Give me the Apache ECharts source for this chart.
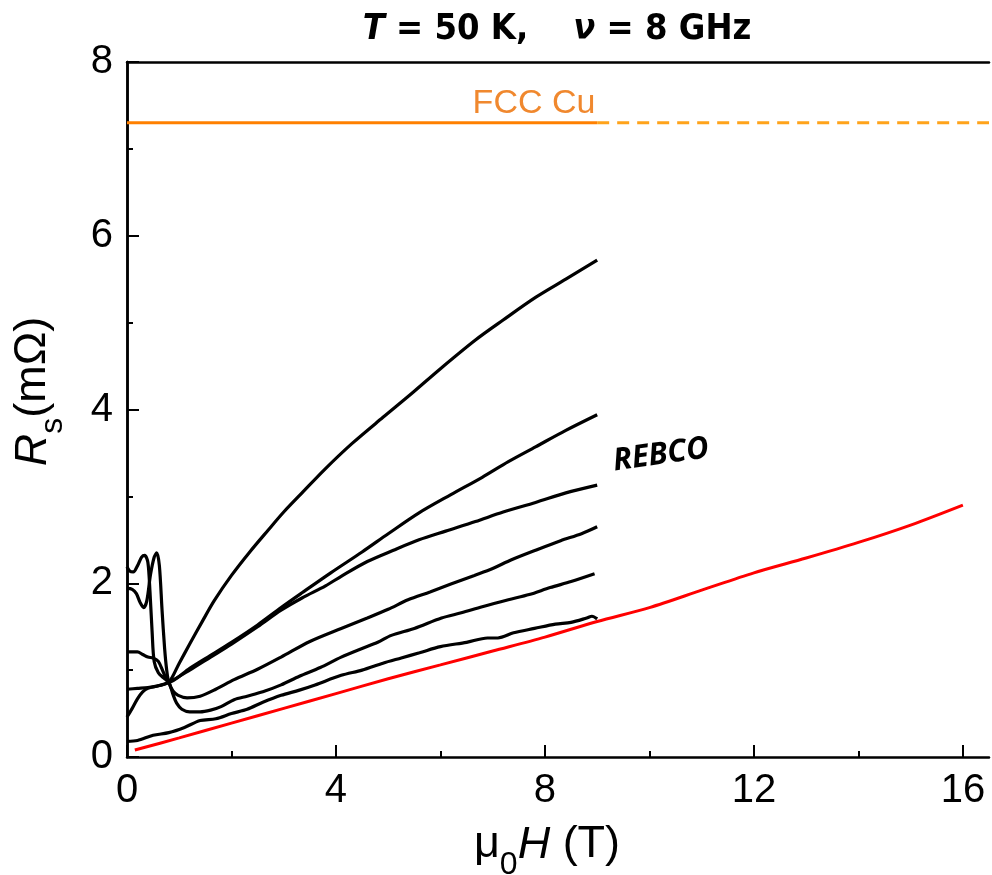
<!DOCTYPE html>
<html>
<head>
<meta charset="utf-8">
<script src="https://cdn.jsdelivr.net/npm/echarts@6/dist/echarts.min.js"></script>
<style>
  html, body { margin: 0; padding: 0; background: #fff; }
  #chart { width: 992px; height: 875px; }
</style>
</head>
<body>
<div id="chart"></div>
<script>
// Surface resistance vs applied field, T = 50 K, 8 GHz
const xTicks = [0, 4, 8, 12, 16];
const xMinorTicks = [2, 6, 10, 14];
const cuLevel = 7.3;          // FCC Cu reference level (mΩ)
const cuMeasuredEnd = 9;      // solid up to here, dashed beyond
const xMax = 16.5;

// REBCO tapes (black curves), [field T, Rs mΩ]
const rebco1 = [[0,0.46],[0.1,0.56],[0.2,0.67],[0.3,0.75],[0.4,0.79],[0.6,0.82],[0.8,0.86],[1.0,1.08],[1.2,1.3],[1.45,1.57],[1.67,1.8],[2.0,2.09],[2.35,2.36],[2.7,2.61],[3.0,2.82],[3.35,3.04],[3.8,3.32],[4.31,3.61],[4.9,3.91],[5.46,4.19],[6.0,4.47],[6.67,4.8],[7.2,5.03],[7.82,5.29],[8.4,5.5],[9,5.72]];
const rebco2 = [[0,1.21],[0.2,1.21],[0.3,1.18],[0.4,1.15],[0.5,1.14],[0.6,1.1],[0.7,0.97],[0.8,0.86],[1.2,1.02],[1.6,1.17],[2.0,1.32],[2.5,1.52],[2.95,1.72],[3.35,1.89],[3.9,2.12],[4.5,2.36],[5.0,2.57],[5.59,2.81],[6.2,3.02],[6.8,3.22],[7.3,3.4],[7.82,3.57],[8.4,3.76],[9,3.94]];
const rebco3 = [[0,0.78],[0.2,0.79],[0.4,0.8],[0.6,0.82],[0.8,0.86],[1.2,1.0],[1.6,1.15],[2.0,1.3],[2.5,1.5],[2.95,1.69],[3.35,1.83],[3.8,1.97],[4.1,2.08],[4.6,2.25],[5.1,2.38],[5.59,2.5],[6.1,2.6],[6.67,2.71],[7.2,2.82],[7.82,2.93],[8.4,3.04],[9,3.13]];
const rebco4 = [[0,1.94],[0.1,1.93],[0.18,1.88],[0.25,1.78],[0.32,1.72],[0.38,1.8],[0.45,2.1],[0.52,2.3],[0.57,2.35],[0.62,2.2],[0.67,1.7],[0.72,1.25],[0.76,1.0],[0.8,0.86],[0.88,0.76],[0.98,0.71],[1.15,0.68],[1.4,0.7],[1.7,0.78],[2.05,0.89],[2.5,1.01],[2.95,1.15],[3.5,1.33],[4.1,1.48],[4.6,1.6],[5.0,1.7],[5.38,1.81],[5.8,1.9],[6.2,1.99],[6.65,2.09],[7.0,2.17],[7.36,2.27],[7.82,2.38],[8.3,2.49],[8.7,2.57],[9,2.65]];
const rebco5 = [[0,2.19],[0.05,2.14],[0.12,2.13],[0.2,2.2],[0.28,2.3],[0.34,2.32],[0.4,2.24],[0.44,1.9],[0.48,1.45],[0.52,1.1],[0.6,0.97],[0.7,0.91],[0.8,0.86],[0.88,0.72],[0.95,0.62],[1.05,0.55],[1.2,0.52],[1.4,0.52],[1.6,0.54],[1.8,0.58],[2.05,0.66],[2.3,0.7],[2.6,0.75],[2.95,0.83],[3.3,0.93],[3.7,1.03],[4.1,1.15],[4.5,1.25],[4.8,1.32],[5.06,1.4],[5.5,1.48],[6.02,1.6],[6.4,1.66],[6.8,1.73],[7.3,1.81],[7.7,1.87],[8.1,1.95],[8.5,2.02],[8.95,2.11]];
const rebco6 = [[0,0.18],[0.2,0.19],[0.5,0.25],[0.8,0.28],[1.1,0.34],[1.4,0.42],[1.7,0.44],[2.0,0.5],[2.3,0.55],[2.6,0.63],[2.95,0.71],[3.3,0.77],[3.6,0.83],[4.1,0.94],[4.5,1.0],[4.9,1.08],[5.25,1.14],[5.6,1.2],[6.0,1.27],[6.5,1.32],[6.9,1.37],[7.1,1.37],[7.4,1.43],[7.8,1.48],[8.2,1.53],[8.5,1.55],[8.8,1.6],[8.9,1.62],[9.0,1.59]];

// Red reference curve
const redCurve = [[0.15,0.08],[1,0.22],[2,0.39],[3,0.56],[4,0.73],[5,0.9],[6,1.06],[7,1.22],[8,1.38],[9,1.56],[10,1.72],[11,1.92],[12,2.12],[13,2.29],[14,2.47],[15,2.67],[16,2.9]];

const cuSolid = [[0, cuLevel], [cuMeasuredEnd, cuLevel]];
const cuDashed = [[cuMeasuredEnd, cuLevel], [xMax, cuLevel]];

const blackSeries = [rebco1, rebco2, rebco3, rebco4, rebco5, rebco6].map((d, i) => ({
  type: 'line', name: 'REBCO ' + (i + 1), data: d, showSymbol: false, smooth: 0.3,
  lineStyle: { color: '#000', width: 3.2 }, z: 3
}));

const font = 'Liberation Sans, Arial, sans-serif';
const nameRich = {
  n: { fontSize: 45, fontFamily: font, color: '#000', lineHeight: 60, verticalAlign: 'middle' },
  sub: { fontSize: 32, fontFamily: font, color: '#000', lineHeight: 60, verticalAlign: 'bottom', padding: [0, 0, -6, 0] },
  it: { fontSize: 45, fontFamily: font, fontStyle: 'italic', color: '#000', lineHeight: 60, verticalAlign: 'middle' }
};
const titleFont = 'DejaVu Sans Condensed, Liberation Sans Narrow, sans-serif';

const chart = echarts.init(document.getElementById('chart'), null, { renderer: 'canvas' });

chart.setOption({
  animation: false,
  backgroundColor: '#fff',
  grid: { left: 127, right: 3, top: 62, bottom: 118, containLabel: false, outerBoundsMode: 'none' },
  xAxis: [
    {
      type: 'value', min: 0, max: xMax, interval: 4, position: 'bottom',
      axisLine: { lineStyle: { color: '#000', width: 2.5 } },
      axisTick: { inside: true, length: 12, lineStyle: { width: 2, color: '#000' }, customValues: xTicks },
      axisLabel: { color: '#000', fontSize: 40, fontFamily: font, margin: 14, customValues: xTicks },
      splitLine: { show: false },
      name: '{n|μ}{sub|0}{it|H}{n| (T)}',
      nameLocation: 'middle', nameGap: 58,
      nameTextStyle: { rich: nameRich, padding: [0, 22, 0, 0] }
    },
    {
      type: 'value', min: 0, max: xMax, position: 'bottom',
      axisLine: { show: false },
      axisTick: { inside: true, length: 6, lineStyle: { width: 2, color: '#000' }, customValues: xMinorTicks },
      axisLabel: { show: false },
      splitLine: { show: false }
    },
    {
      type: 'value', min: 0, max: xMax, position: 'top',
      axisLine: { lineStyle: { color: '#000', width: 2.5 } },
      axisTick: { show: false }, axisLabel: { show: false }, splitLine: { show: false }
    }
  ],
  yAxis: [
    {
      type: 'value', min: 0, max: 8, interval: 2, position: 'left',
      axisLine: { show: true, lineStyle: { color: '#000', width: 2.5 } },
      axisTick: { show: true, inside: true, length: 12, lineStyle: { width: 2, color: '#000' } },
      minorTick: { show: true, splitNumber: 2, length: 6, lineStyle: { width: 2, color: '#000' } },
      axisLabel: { color: '#000', fontSize: 40, fontFamily: font, margin: 14 },
      splitLine: { show: false },
      name: '{it|R}{sub|s}{n|(mΩ)}',
      nameLocation: 'middle', nameGap: 64, nameRotate: 90,
      nameTextStyle: { rich: nameRich, padding: [0, 0, 0, 36] }
    },
    {
      type: 'value', min: 0, max: 8, position: 'right',
      axisLine: { show: true, lineStyle: { color: '#000', width: 2.5 } },
      axisTick: { show: false }, axisLabel: { show: false }, splitLine: { show: false }
    }
  ],
  series: [
    {
      type: 'line', name: 'FCC Cu', data: cuSolid, showSymbol: false,
      lineStyle: { color: '#FF8000', width: 3 }, z: 2
    },
    {
      type: 'line', name: 'FCC Cu (extrapolated)', data: cuDashed, showSymbol: false,
      lineStyle: { color: '#FFA31A', width: 3, type: [12, 8] }, z: 2
    },
    ...blackSeries,
    {
      type: 'line', name: 'reference', data: redCurve, showSymbol: false, smooth: 0.3,
      lineStyle: { color: '#FF0000', width: 3 }, z: 4
    }
  ],
  graphic: [
    {
      type: 'text', x: 557, y: 30,
      style: {
        text: '{it|T}{b| = 50 K,    }{it|ν}{b| = 8 GHz}',
        textAlign: 'center', textVerticalAlign: 'middle',
        rich: {
          b: { fontSize: 36, fontWeight: 'bold', fontFamily: titleFont, fill: '#000' },
          it: { fontSize: 36, fontWeight: 'bold', fontStyle: 'italic', fontFamily: titleFont, fill: '#000' }
        }
      }
    },
    {
      type: 'text', x: 534, y: 104,
      style: {
        text: 'FCC Cu', fontSize: 34, fontFamily: font, fill: '#F0882E',
        textAlign: 'center', textVerticalAlign: 'middle'
      }
    },
    {
      type: 'text', x: 661, y: 455, rotation: 0.14,
      style: {
        text: 'REBCO', fontSize: 31, fontWeight: 'bold', fontStyle: 'italic', fontFamily: 'Open Sans, sans-serif', fill: '#000',
        textAlign: 'center', textVerticalAlign: 'middle'
      }
    }
  ]
});
</script>
</body>
</html>
